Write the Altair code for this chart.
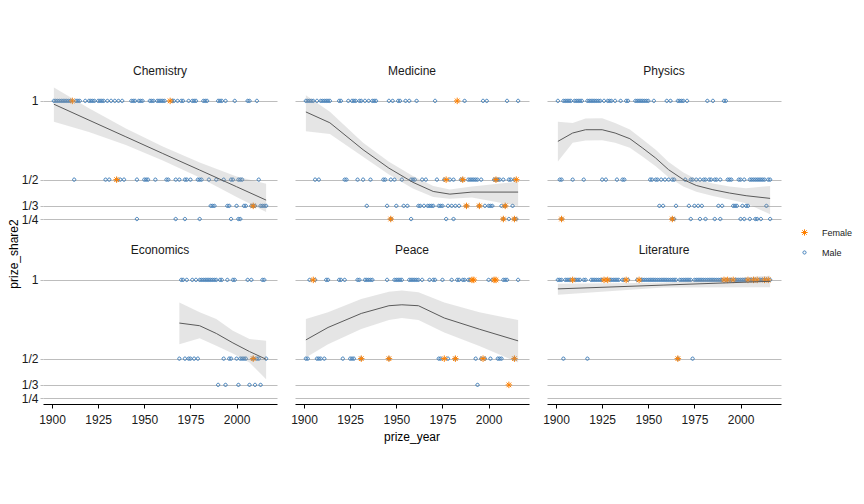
import altair as alt
import pandas as pd

# ---------------- data ----------------
CATEGORIES = ["Chemistry", "Medicine", "Physics", "Economics", "Peace", "Literature"]
GENDERS = ["Female", "Male"]
GENDER_COLORS = ["#ff8000", "#3b7bb8"]
X_TITLE = "prize_year"
Y_TITLE = "prize_share2"
X_TICKS = [1900, 1925, 1950, 1975, 2000]
Y_TICKS = [1, 1 / 2, 1 / 3, 1 / 4]
Y_TICK_LABELS = ["1", "1/2", "1/3", "1/4"]

# prize years by share denominator (1 -> 1, 2 -> 1/2, 3 -> 1/3, 4 -> 1/4)
chem_male = {
    1: [1901, 1902, 1903, 1904, 1905, 1906, 1907, 1908, 1909, 1910, 1913, 1914, 1915, 1918, 1920, 1921,
        1922, 1923, 1925, 1926, 1927, 1928, 1930, 1932, 1934, 1936, 1938, 1943, 1944, 1945, 1947, 1948,
        1949, 1953, 1954, 1955, 1957, 1958, 1959, 1960, 1961, 1965, 1966, 1968, 1970, 1971, 1974, 1976,
        1977, 1978, 1982, 1983, 1984, 1990, 1991, 1992, 1994, 1999, 2006, 2007, 2011],
    2: [1912, 1929, 1931, 1935, 1937, 1939, 1946, 1950, 1951, 1952, 1956, 1962, 1963, 1967, 1969, 1972,
        1973, 1975, 1979, 1980, 1981, 1985, 1989, 1993, 1997, 1998, 2001, 2002, 2003, 2012],
    3: [1986, 1987, 1988, 1995, 1996, 2000, 2004, 2005, 2008, 2009, 2010, 2013, 2014, 2015, 2016],
    4: [1946, 1967, 1972, 1980, 1997, 2001, 2002],
}
chem_female = {1: [1911, 1964], 2: [1935], 3: [2009]}

med_male = {
    1: [1901, 1902, 1903, 1904, 1905, 1907, 1909, 1910, 1911, 1912, 1913, 1914, 1919, 1920, 1924, 1926,
        1927, 1928, 1930, 1931, 1933, 1935, 1937, 1938, 1939, 1946, 1948, 1951, 1952, 1955, 1957, 1961,
        1971, 1987, 1997, 1999, 2010, 2016],
    2: [1906, 1908, 1922, 1923, 1929, 1932, 1936, 1943, 1944, 1947, 1949, 1953, 1958, 1959, 1960, 1964,
        1966, 1972, 1976, 1979, 1981, 1985, 1986, 1989, 1990, 1991, 1992, 1993, 1994, 1996, 2003, 2004,
        2005, 2006, 2008, 2011, 2012, 2014],
    3: [1934, 1945, 1950, 1954, 1956, 1962, 1963, 1965, 1967, 1968, 1969, 1970, 1973, 1974, 1975, 1978,
        1980, 1982, 1984, 1988, 1995, 1998, 2000, 2001, 2002, 2007, 2009, 2013],
    4: [1947, 1958, 1977, 1981, 2008, 2011, 2014, 2015],
}
med_female = {1: [1983], 2: [1977, 1986, 2004, 2015], 3: [1988, 1995, 2009], 4: [1947, 2008, 2014]}

phys_male = {
    1: [1901, 1904, 1905, 1906, 1907, 1908, 1910, 1911, 1912, 1913, 1914, 1917, 1918, 1919, 1920, 1921,
        1922, 1923, 1924, 1926, 1928, 1929, 1930, 1932, 1935, 1938, 1939, 1943, 1944, 1945, 1946, 1947,
        1948, 1949, 1950, 1953, 1960, 1962, 1966, 1967, 1968, 1969, 1971, 1982, 1985, 1991, 1992],
    2: [1902, 1903, 1909, 1915, 1925, 1927, 1933, 1936, 1937, 1951, 1952, 1954, 1955, 1957, 1959, 1961,
        1963, 1964, 1970, 1973, 1974, 1976, 1978, 1980, 1981, 1983, 1984, 1986, 1987, 1989, 1993, 1994,
        1995, 1999, 2000, 2002, 2005, 2006, 2007, 2008, 2009, 2010, 2011, 2012, 2013, 2015, 2016],
    3: [1956, 1958, 1965, 1972, 1975, 1977, 1979, 1988, 1990, 1996, 1997, 1998, 2001, 2003, 2004, 2014],
    4: [1903, 1963, 1964, 1973, 1978, 1981, 1986, 1989, 2000, 2002, 2005, 2008, 2009, 2011, 2016],
}
phys_female = {4: [1903, 1963]}

econ_male = {
    1: [1970, 1971, 1973, 1976, 1978, 1980, 1981, 1982, 1983, 1984, 1985, 1986, 1987, 1988, 1989, 1991,
        1992, 1995, 1998, 1999, 2006, 2008, 2014, 2015],
    2: [1969, 1972, 1974, 1975, 1977, 1979, 1993, 1996, 1997, 2000, 2002, 2003, 2004, 2005, 2009, 2011,
        2012, 2016],
    3: [1990, 1994, 2001, 2007, 2010, 2013],
}
econ_female = {2: [2009]}

peace_male = {
    1: [1903, 1906, 1912, 1913, 1919, 1920, 1922, 1929, 1930, 1933, 1934, 1935, 1936, 1937, 1945, 1949,
        1950, 1951, 1952, 1953, 1957, 1958, 1959, 1960, 1961, 1962, 1964, 1968, 1970, 1971, 1975, 1980,
        1983, 1984, 1986, 1987, 1989, 1990, 2000, 2002, 2008, 2009, 2010, 2016],
    2: [1901, 1902, 1907, 1908, 1909, 1911, 1921, 1925, 1926, 1927, 1931, 1946, 1973, 1974, 1978, 1982,
        1993, 1996, 1998, 2001, 2005, 2006, 2007, 2014],
    3: [1994],
}
peace_female = {1: [1905, 1991, 1992, 2003, 2004], 2: [1931, 1946, 1976, 1982, 1997, 2014], 3: [2011]}

lit_male = {
    1: [1901, 1902, 1903, 1905, 1906, 1907, 1908, 1910, 1911, 1912, 1913, 1915, 1916, 1919, 1920, 1921,
        1922, 1923, 1924, 1925, 1927, 1929, 1930, 1931, 1932, 1933, 1934, 1936, 1937, 1939, 1944, 1946,
        1947, 1948, 1949, 1950, 1951, 1952, 1953, 1954, 1955, 1956, 1957, 1958, 1959, 1960, 1961, 1962,
        1963, 1964, 1965, 1967, 1968, 1969, 1970, 1971, 1972, 1973, 1975, 1976, 1977, 1978, 1979, 1980,
        1981, 1982, 1983, 1984, 1985, 1986, 1987, 1988, 1989, 1990, 1992, 1994, 1995, 1997, 1998, 1999,
        2000, 2001, 2002, 2003, 2005, 2006, 2008, 2010, 2011, 2012, 2014, 2016],
    2: [1904, 1917, 1966, 1974],
}
lit_female = {1: [1909, 1926, 1928, 1938, 1945, 1991, 1993, 1996, 2004, 2007, 2009, 2013, 2015], 2: [1966]}

# smoothed trend (fit and band)
chem_sm_year = [1901, 1920, 1940, 1960, 1980, 2000, 2016]
chem_sm_fit = [0.979, 0.878, 0.772, 0.666, 0.561, 0.455, 0.370]
chem_sm_lo = [0.867, 0.803, 0.720, 0.621, 0.513, 0.390, 0.295]
chem_sm_hi = [1.085, 0.953, 0.824, 0.711, 0.609, 0.520, 0.474]

med_sm_year = [1901, 1914, 1932, 1946, 1959, 1970, 1979, 1991, 2016]
med_sm_fit = [0.930, 0.861, 0.690, 0.573, 0.483, 0.425, 0.408, 0.421, 0.421]
med_sm_lo = [0.808, 0.790, 0.645, 0.533, 0.443, 0.390, 0.378, 0.386, 0.333]
med_sm_hi = [1.036, 0.931, 0.735, 0.613, 0.523, 0.460, 0.438, 0.456, 0.487]

phys_sm_year = [1901, 1909, 1916, 1925, 1932, 1940, 1947, 1954, 1961, 1969, 1976, 1985, 1994, 2003, 2016]
phys_sm_fit = [0.743, 0.796, 0.817, 0.817, 0.796, 0.760, 0.700, 0.637, 0.563, 0.500, 0.463, 0.436,
               0.415, 0.398, 0.381]
phys_sm_lo = [0.615, 0.735, 0.748, 0.750, 0.735, 0.702, 0.645, 0.585, 0.515, 0.457, 0.423, 0.396,
              0.374, 0.350, 0.280]
phys_sm_hi = [0.867, 0.860, 0.888, 0.890, 0.860, 0.818, 0.755, 0.690, 0.612, 0.545, 0.503, 0.476,
              0.456, 0.446, 0.460]

econ_sm_year = [1969, 1980, 1989, 1998, 2007, 2016]
econ_sm_fit = [0.726, 0.709, 0.660, 0.600, 0.545, 0.496]
econ_sm_lo = [0.592, 0.630, 0.582, 0.532, 0.475, 0.369]
econ_sm_hi = [0.857, 0.794, 0.752, 0.677, 0.624, 0.613]

peace_sm_year = [1901, 1913, 1931, 1946, 1953, 1962, 1976, 1995, 2016]
peace_sm_fit = [0.619, 0.698, 0.787, 0.836, 0.842, 0.836, 0.758, 0.687, 0.613]
peace_sm_lo = [0.507, 0.592, 0.688, 0.745, 0.758, 0.745, 0.666, 0.581, 0.475]
peace_sm_hi = [0.752, 0.794, 0.879, 0.925, 0.932, 0.921, 0.857, 0.794, 0.745]

lit_sm_year = [1901, 1958, 2016]
lit_sm_fit = [0.943, 0.967, 0.991]
lit_sm_lo = [0.906, 0.952, 0.953]
lit_sm_hi = [0.975, 0.982, 1.027]

# ---------------- assemble table ----------------
points = [
    ("Chemistry", chem_male, chem_female),
    ("Medicine", med_male, med_female),
    ("Physics", phys_male, phys_female),
    ("Economics", econ_male, econ_female),
    ("Peace", peace_male, peace_female),
    ("Literature", lit_male, lit_female),
]
smooths = [
    ("Chemistry", chem_sm_year, chem_sm_fit, chem_sm_lo, chem_sm_hi),
    ("Medicine", med_sm_year, med_sm_fit, med_sm_lo, med_sm_hi),
    ("Physics", phys_sm_year, phys_sm_fit, phys_sm_lo, phys_sm_hi),
    ("Economics", econ_sm_year, econ_sm_fit, econ_sm_lo, econ_sm_hi),
    ("Peace", peace_sm_year, peace_sm_fit, peace_sm_lo, peace_sm_hi),
    ("Literature", lit_sm_year, lit_sm_fit, lit_sm_lo, lit_sm_hi),
]
rows = []
for cat, male, female in points:
    for gender, d in (("Male", male), ("Female", female)):
        for den, years in d.items():
            for yr in years:
                rows.append({"category": cat, "kind": "pt", "year": yr, "share": 1 / den, "gender": gender})
for cat, yrs, fit, lo, hi in smooths:
    for yr, f, l, h in zip(yrs, fit, lo, hi):
        rows.append({"category": cat, "kind": "sm", "year": yr, "fit": f, "lo": l, "hi": h})
df = pd.DataFrame(rows)

# ---------------- chart ----------------
FONT = "Liberation Sans"
ASTERISK = "M-1,0L1,0M0,-1L0,1M-0.71,-0.71L0.71,0.71M-0.71,0.71L0.71,-0.71"
CIRCLE = "M0.5,0A0.5,0.5,0,1,1,-0.5,0A0.5,0.5,0,1,1,0.5,0Z"

mids = [(Y_TICKS[i] + Y_TICKS[i + 1]) / 2 for i in range(len(Y_TICKS) - 1)]
label_expr = ""
for m, lab in zip(mids, Y_TICK_LABELS[:-1]):
    label_expr += f"datum.value > {m} ? '{lab}' : "
label_expr += f"'{Y_TICK_LABELS[-1]}'"

x_enc = alt.X("year:Q", title=None,
              scale=alt.Scale(domain=[1895.1, 2021.9], nice=False, zero=False),
              axis=alt.Axis(values=X_TICKS, format="d", grid=False, domainColor="black",
                            tickColor="black", tickSize=4, labelPadding=6, labelFontSize=12,
                            labelColor="#1a1a1a", labelFont=FONT))
y_scale = alt.Scale(domain=[0.212, 1.12], nice=False, zero=False)
y_axis = alt.Axis(values=Y_TICKS, labelExpr=label_expr, domain=False, grid=True,
                  gridColor="#bdbdbd", gridWidth=1, tickColor="#bdbdbd", tickSize=3,
                  labelPadding=2, labelFontSize=12, labelColor="#1a1a1a", labelFont=FONT)

base = alt.Chart()
pts = base.mark_point(filled=False, strokeWidth=1, size=42, opacity=1).encode(
    x=x_enc,
    y=alt.Y("share:Q", title=None, scale=y_scale, axis=y_axis),
    color=alt.Color("gender:N", scale=alt.Scale(domain=GENDERS, range=GENDER_COLORS),
                    legend=alt.Legend(title=None)),
    shape=alt.Shape("gender:N", scale=alt.Scale(domain=GENDERS, range=[ASTERISK, CIRCLE]),
                    legend=alt.Legend(title=None)),
).transform_filter("datum.kind == 'pt'")

band = base.mark_area(color="#999999", opacity=0.25).encode(
    x="year:Q", y=alt.Y("lo:Q"), y2="hi:Q"
).transform_filter("datum.kind == 'sm'")

line = base.mark_line(color="#5a5a5a", strokeWidth=1).encode(
    x="year:Q", y=alt.Y("fit:Q")
).transform_filter("datum.kind == 'sm'")

chart = alt.layer(pts, band, line, data=df).properties(width=234, height=143).facet(
    facet=alt.Facet("category:N", sort=CATEGORIES, title=X_TITLE,
                    header=alt.Header(labelFontSize=12, labelFont=FONT, labelColor="#1a1a1a",
                                      labelPadding=4, labelOrient="top",
                                      titleOrient="bottom", titleFontSize=12, titleFont=FONT,
                                      titleFontWeight="normal", titleColor="#000000",
                                      titlePadding=7)),
    columns=3,
    spacing={"row": 19, "column": 18},
).properties(
    title=alt.TitleParams(Y_TITLE, orient="left", anchor="middle", fontSize=12, font=FONT,
                          fontWeight="normal", color="#000000", offset=0),
    padding={"left": 0, "top": 57, "right": 0, "bottom": 5},
).configure_view(stroke=None).configure_legend(
    orient="none", legendX=757, legendY=146, labelFontSize=9, labelFont=FONT,
    labelColor="#1a1a1a", symbolSize=40, symbolStrokeWidth=1, rowPadding=10, labelOffset=13,
)

chart.save("out.html", embed_options={"renderer": "svg", "actions": False})
